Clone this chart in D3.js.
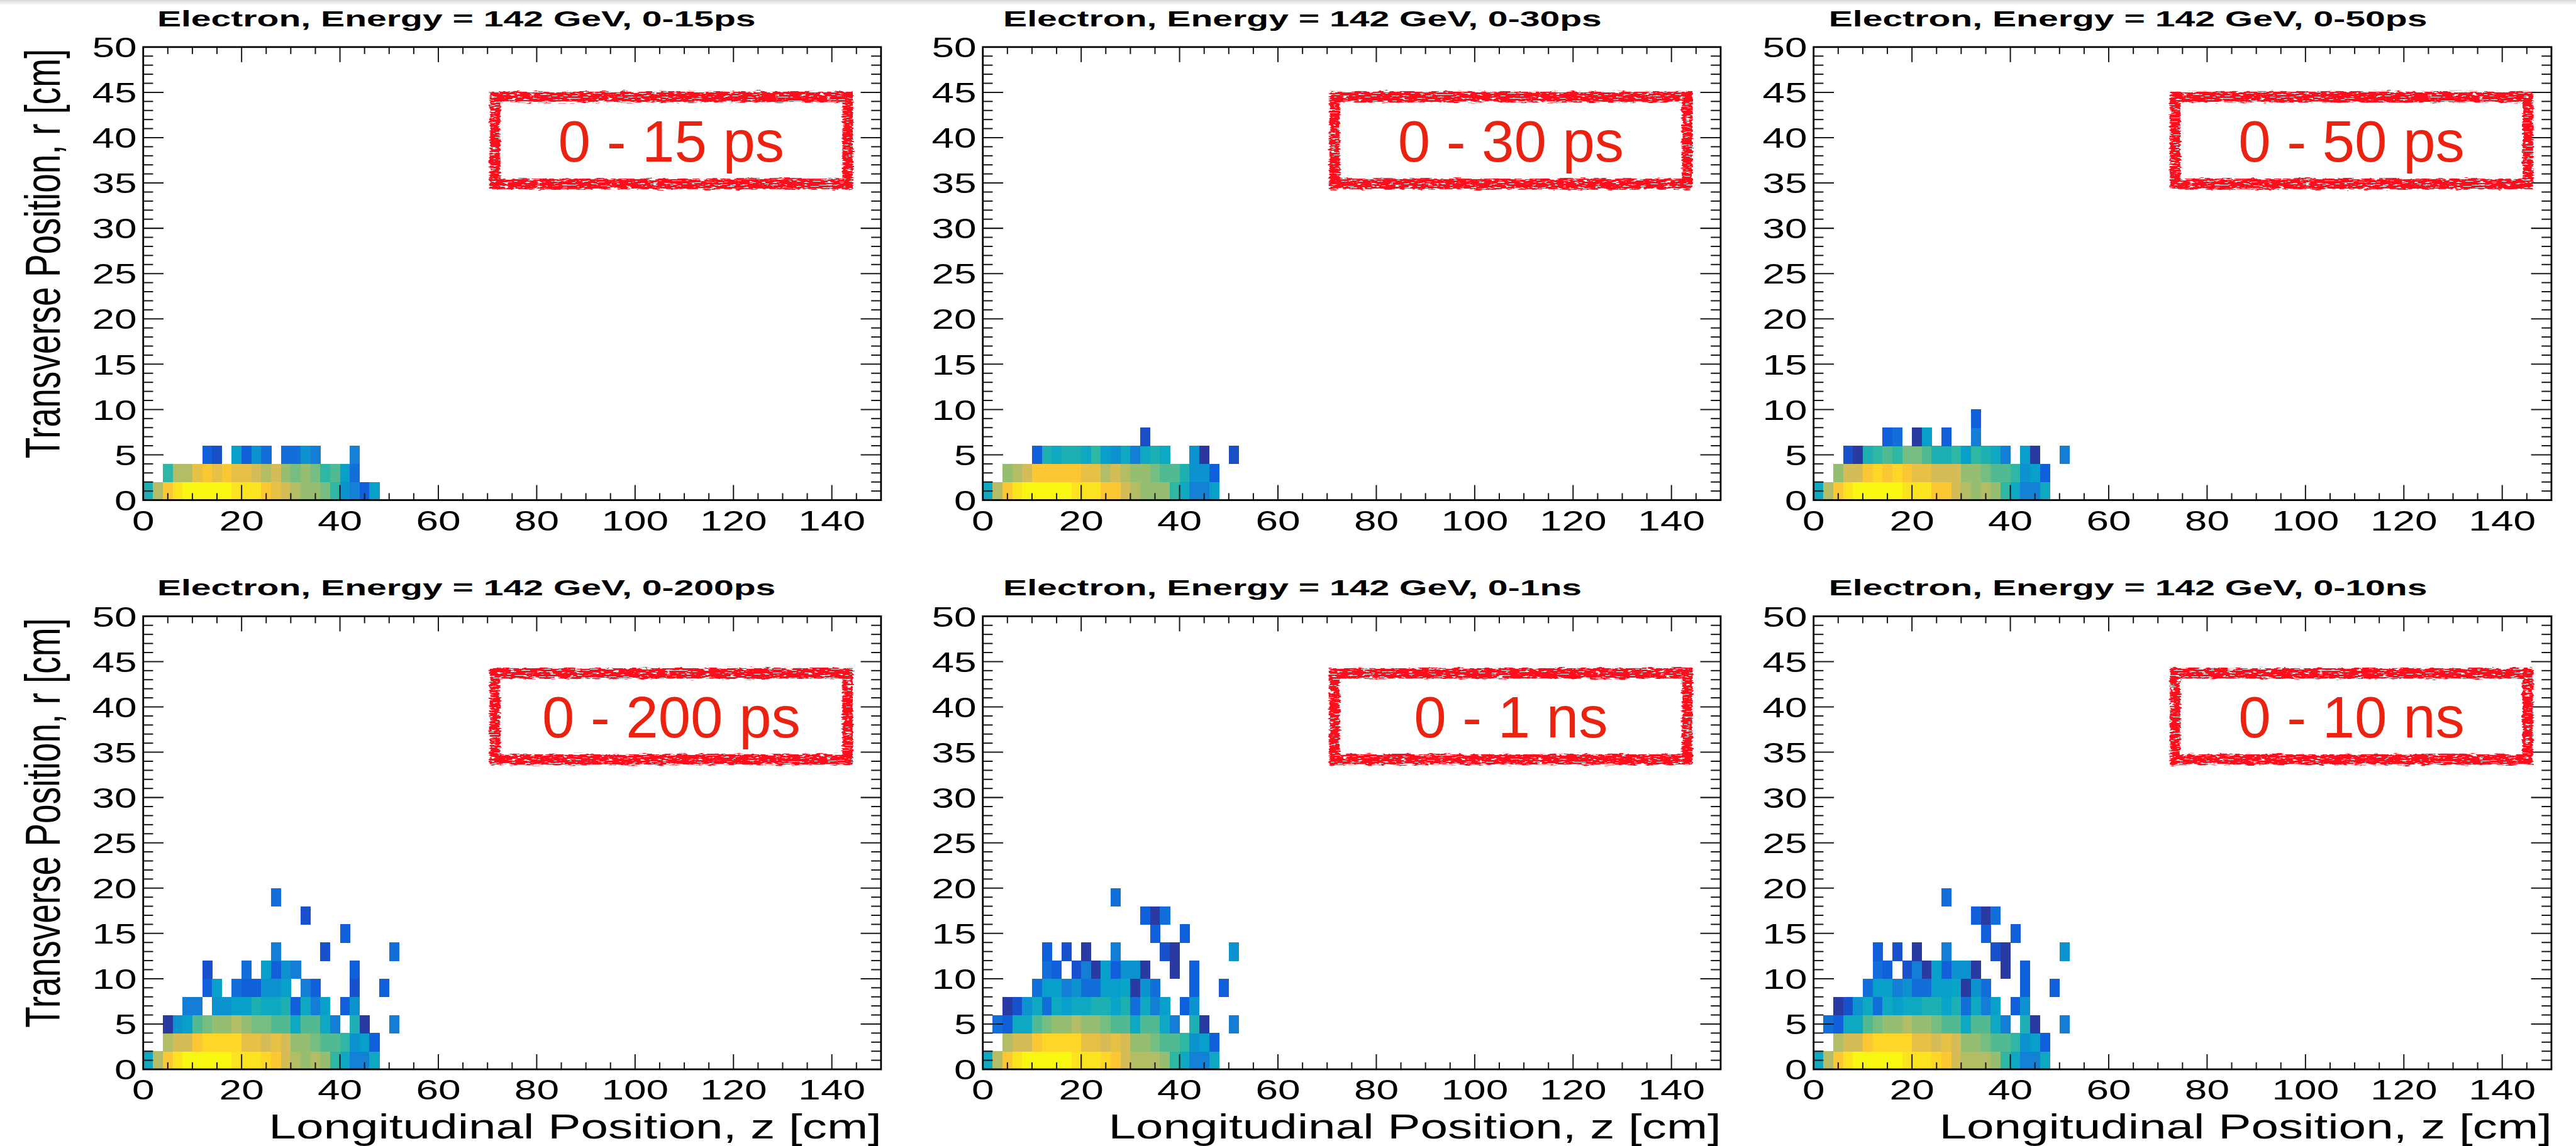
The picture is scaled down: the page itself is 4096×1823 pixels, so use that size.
<!DOCTYPE html>
<html>
<head>
<meta charset="utf-8">
<script src="https://cdn.jsdelivr.net/npm/d3@7"></script>
<style>
  html, body { margin: 0; padding: 0; background: #fff; overflow: hidden; }
  svg { display: block; }
</style>
</head>
<body>
<svg id="chart"></svg>
<script>
// ---------------------------------------------------------------
// Electron shower (142 GeV) energy density, r vs z, for six
// integration time windows. Cells are 2 cm x 2 cm bins; values are
// a colour level 0..100 on the bird palette (log density).
// ---------------------------------------------------------------
const _ = null;

const timeWindows  = ["0-15ps", "0-30ps", "0-50ps", "0-200ps", "0-1ns", "0-10ns"];
const stampLabels  = ["0 - 15 ps", "0 - 30 ps", "0 - 50 ps", "0 - 200 ps", "0 - 1 ns", "0 - 10 ns"];
const xTickLabels  = [0, 20, 40, 60, 80, 100, 120, 140];
const yTickLabels  = [0, 5, 10, 15, 20, 25, 30, 35, 40, 45, 50];
const zRange = [0, 150];   // cm
const rRange = [0, 50];    // cm
const binSize = 2;         // cm

// bird palette stops
const birdStops = ["#352a87", "#0f5cdd", "#1481d6", "#06a4ca", "#2eb7a4",
                   "#87bf77", "#d1bb59", "#fec832", "#f9fb0e"];

// rows = r bins (0-2, 2-4, ...), columns = z bins (0-2, 2-4, ... 50-52)
const density_0_15ps = [
  [45,70,87,94,99,99,99,99,99,94,94,94,87,81,76,70,65,65,60,50,31,25,14,36,_,_],
  [_,_,50,70,70,81,87,81,87,81,81,76,70,76,65,60,65,60,50,55,36,19,_,_,_,_],
  [_,_,_,_,_,_,14,9,_,36,14,31,19,_,19,19,31,24,_,_,_,25,_,_,_,_]
];

const density_0_30ps = [
  [40,70,87,94,99,99,99,99,99,94,94,94,87,87,76,70,65,65,65,50,40,25,25,36,_,_],
  [_,_,65,70,76,87,87,87,87,87,81,81,70,76,70,65,65,60,55,55,45,31,31,14,_,_],
  [_,_,_,_,_,14,45,40,45,45,40,50,36,31,40,24,40,45,40,_,_,31,3,_,_,9],
  [_,_,_,_,_,_,_,_,_,_,_,_,_,_,_,_,9,_,_,_,_,_,_,_,_,_]
];

const density_0_50ps = [
  [40,70,87,94,99,99,99,99,99,94,94,94,87,87,76,70,65,70,65,50,40,25,25,40,_,_],
  [_,_,65,76,76,87,91,87,91,87,81,81,76,76,76,65,65,60,55,55,50,31,36,14,_,_],
  [_,_,_,10,4,45,50,55,50,60,60,55,45,45,50,36,50,45,40,24,_,36,4,_,_,24],
  [_,_,_,_,_,_,_,14,19,_,4,36,_,14,_,_,24,_,_,_,_,_,_,_,_,_],
  [_,_,_,_,_,_,_,_,_,_,_,_,_,_,_,_,14,_,_,_,_,_,_,_,_,_]
];

const density_0_200ps = [
  [40,70,87,94,99,99,99,99,99,94,94,94,91,87,76,70,65,70,65,50,40,25,25,40,_,_],
  [_,_,70,76,76,87,91,91,91,91,81,81,76,81,76,65,65,60,55,55,50,31,36,14,_,_],
  [_,_,4,31,36,55,60,65,65,70,65,60,60,55,55,40,55,55,40,24,_,45,4,_,_,24],
  [_,_,_,_,24,24,_,31,31,36,36,45,40,40,45,14,40,24,36,_,14,31,_,_,_,_],
  [_,_,_,_,_,_,14,36,_,19,14,14,31,31,36,_,24,14,_,_,_,10,_,_,14,_],
  [_,_,_,_,_,_,10,_,_,_,19,_,36,14,31,24,_,_,_,_,_,14,_,_,_,_],
  [_,_,_,_,_,_,_,_,_,_,_,_,_,24,_,_,_,_,10,_,_,_,_,_,_,19],
  [_,_,_,_,_,_,_,_,_,_,_,_,_,_,_,_,_,_,_,_,14,_,_,_,_,_],
  [_,_,_,_,_,_,_,_,_,_,_,_,_,_,_,_,10,_,_,_,_,_,_,_,_,_],
  [_,_,_,_,_,_,_,_,_,_,_,_,_,19,_,_,_,_,_,_,_,_,_,_,_,_]
];

const density_0_1ns = [
  [40,70,87,94,99,99,99,99,99,94,94,94,91,87,76,70,70,70,65,50,40,25,25,40,_,_],
  [_,_,70,76,76,87,91,91,91,91,81,81,76,81,76,65,65,60,55,55,50,31,36,14,_,_],
  [_,19,14,40,40,55,60,65,65,70,65,65,60,55,55,40,55,55,40,24,_,45,4,_,_,24],
  [_,_,4,10,31,40,19,40,36,40,40,45,45,38,45,19,40,24,36,_,14,31,_,_,_,_],
  [_,_,_,_,_,19,36,36,24,31,19,19,36,36,38,4,31,19,_,_,_,14,_,_,14,_],
  [_,_,_,_,_,_,19,14,_,10,24,4,36,14,31,31,4,_,_,4,_,14,_,_,_,_],
  [_,_,_,_,_,_,14,_,10,_,4,_,_,24,_,_,_,_,10,4,_,_,_,_,_,31],
  [_,_,_,_,_,_,_,_,_,_,_,_,_,_,_,_,_,14,_,_,14,_,_,_,_,_],
  [_,_,_,_,_,_,_,_,_,_,_,_,_,_,_,_,14,4,19,_,_,_,_,_,_,_],
  [_,_,_,_,_,_,_,_,_,_,_,_,_,19,_,_,_,_,_,_,_,_,_,_,_,_]
];

const density_0_10ns = [
  [40,70,87,94,99,99,99,99,99,94,94,94,91,87,76,70,70,70,65,50,40,25,25,40,_,_],
  [_,_,70,76,76,87,91,91,91,91,81,81,76,81,76,65,65,60,55,55,50,31,36,14,_,_],
  [_,19,14,40,40,55,60,65,65,70,65,65,60,55,55,40,55,55,40,24,_,45,4,_,_,24],
  [_,_,4,10,31,40,19,40,36,40,40,45,45,38,45,19,40,24,36,_,14,31,_,_,_,_],
  [_,_,_,_,_,19,36,36,24,31,19,19,36,36,38,4,31,19,_,_,_,14,_,_,14,_],
  [_,_,_,_,_,_,19,14,_,10,24,4,36,14,31,31,4,_,_,4,_,14,_,_,_,_],
  [_,_,_,_,_,_,14,_,10,_,4,_,_,24,_,_,_,_,10,4,_,_,_,_,_,31],
  [_,_,_,_,_,_,_,_,_,_,_,_,_,_,_,_,_,14,_,_,14,_,_,_,_,_],
  [_,_,_,_,_,_,_,_,_,_,_,_,_,_,_,_,14,4,19,_,_,_,_,_,_,_],
  [_,_,_,_,_,_,_,_,_,_,_,_,_,19,_,_,_,_,_,_,_,_,_,_,_,_]
];

const densities = [density_0_15ps, density_0_30ps, density_0_50ps,
                   density_0_200ps, density_0_1ns, density_0_10ns];

// ---------------------------------------------------------------
// layout (drawn in a 4434 x 1973 coordinate space, scaled to the window)
// ---------------------------------------------------------------
const VW = 4434, VH = 1973;
const frameLeft = [246.5, 1691.7, 3121.7];
const frameTop  = [81, 1061];
const titleInset = [24, 35, 26];
const frameW = 1270, frameH = 780;
const FONT = "'Liberation Sans', Arial, Helvetica, sans-serif";

const svg = d3.select("#chart")
  .attr("width", 4096).attr("height", 1823)
  .attr("viewBox", `0 0 ${VW} ${VH}`)
  .attr("preserveAspectRatio", "none");

const defs = svg.append("defs");
const grad = defs.append("linearGradient").attr("id", "topShade")
  .attr("x1", 0).attr("y1", 0).attr("x2", 0).attr("y2", 1);
grad.append("stop").attr("offset", "0%").attr("stop-color", "#d8d8d8");
grad.append("stop").attr("offset", "100%").attr("stop-color", "#ffffff");

// rough rubber-stamp look for the red frames
const f = defs.append("filter").attr("id", "stamp")
  .attr("x", "-8%").attr("y", "-30%").attr("width", "116%").attr("height", "160%");
f.append("feTurbulence").attr("type", "fractalNoise").attr("baseFrequency", "0.06 0.35")
  .attr("numOctaves", 2).attr("seed", 4).attr("result", "wob");
f.append("feDisplacementMap").attr("in", "SourceGraphic").attr("in2", "wob")
  .attr("scale", 9).attr("xChannelSelector", "R").attr("yChannelSelector", "G").attr("result", "rough");
f.append("feTurbulence").attr("type", "fractalNoise").attr("baseFrequency", "0.09 0.45")
  .attr("numOctaves", 2).attr("seed", 11).attr("result", "speck");
f.append("feColorMatrix").attr("in", "speck").attr("type", "matrix")
  .attr("values", "0 0 0 0 0  0 0 0 0 0  0 0 0 0 0  -14 0 0 0 9.6").attr("result", "mask");
f.append("feComposite").attr("in", "rough").attr("in2", "mask").attr("operator", "in");

svg.append("rect").attr("width", VW).attr("height", VH).attr("fill", "#fff");
svg.append("rect").attr("width", VW).attr("height", 9).attr("fill", "url(#topShade)");

const color = d3.scaleLinear()
  .domain(d3.range(birdStops.length).map(k => k * 100 / (birdStops.length - 1)))
  .range(birdStops)
  .interpolate(d3.interpolateRgb);

// horizontal stretch factors derived from measured widths
function natural(str, size, weight) {
  const t = svg.append("text").attr("font-family", FONT).attr("font-size", size)
    .attr("font-weight", weight).text(str);
  const w = t.node().getComputedTextLength();
  t.remove();
  return w;
}
const sxTitle = 1030 / natural("Electron, Energy = 142 GeV, 0-15ps", 37.7, "bold");
const sxTick  = 77 / natural("20", 49, "normal");
const sxAxis  = 1055 / natural("Longitudinal Position, z [cm]", 59.5, "normal");

function stretched(parent, str, x, y, size, sx, opts = {}) {
  return parent.append("text")
    .attr("transform", `translate(${x},${y}) scale(${sx},1)` + (opts.rotate ? ` rotate(${opts.rotate})` : ""))
    .attr("font-family", FONT)
    .attr("font-size", size)
    .attr("font-weight", opts.weight || "normal")
    .attr("text-anchor", opts.anchor || "start")
    .attr("fill", "#000")
    .text(str);
}

densities.forEach((cells, k) => {
  const col = k % 3, row = Math.floor(k / 3);
  const fx = frameLeft[col], fy = frameTop[row];
  const x = d3.scaleLinear().domain(zRange).range([fx, fx + frameW]);
  const y = d3.scaleLinear().domain(rRange).range([fy + frameH, fy]);
  const g = svg.append("g");

  // histogram cells
  const flat = cells.flatMap((rw, j) => rw.map((v, i) => ({ i, j, v }))).filter(d => d.v !== null);
  g.append("g").selectAll("rect").data(flat).join("rect")
    .attr("x", d => x(d.i * binSize))
    .attr("y", d => y((d.j + 1) * binSize))
    .attr("width", x(binSize) - x(0) + 0.6)
    .attr("height", y(0) - y(binSize) + 0.6)
    .attr("fill", d => color(d.v))
    .attr("shape-rendering", "crispEdges");

  // ticks on all four sides, pointing inward
  const tg = g.append("g").attr("stroke", "#1a1a1a").attr("stroke-width", 2.2);
  const xt = d3.range(5, 150, 5);
  const xLen = v => (v % 20 === 0 ? 26 : 12);
  tg.selectAll(".xb").data(xt).join("line")
    .attr("x1", d => x(d)).attr("x2", d => x(d))
    .attr("y1", y(0)).attr("y2", d => y(0) - xLen(d));
  tg.selectAll(".xt").data(xt).join("line")
    .attr("x1", d => x(d)).attr("x2", d => x(d))
    .attr("y1", y(50)).attr("y2", d => y(50) + xLen(d));
  const yt = d3.range(1, 50, 1);
  const yLen = v => (v % 5 === 0 ? 35 : 17);
  tg.selectAll(".yl").data(yt).join("line")
    .attr("y1", d => y(d)).attr("y2", d => y(d))
    .attr("x1", x(0)).attr("x2", d => x(0) + yLen(d));
  tg.selectAll(".yr").data(yt).join("line")
    .attr("y1", d => y(d)).attr("y2", d => y(d))
    .attr("x1", x(150)).attr("x2", d => x(150) - yLen(d));

  // frame
  g.append("rect").attr("x", fx).attr("y", fy).attr("width", frameW).attr("height", frameH)
    .attr("fill", "none").attr("stroke", "#000").attr("stroke-width", 3);

  // tick labels
  xTickLabels.forEach(v => stretched(g, String(v), x(v), y(0) + 52, 49, sxTick, { anchor: "middle" }));
  yTickLabels.forEach(v => stretched(g, String(v), x(0) - 11, y(v) + 17.5, 49, sxTick, { anchor: "end" }));

  // panel title
  stretched(g, `Electron, Energy = 142 GeV, ${timeWindows[k]}`, fx + titleInset[col], fy - 36, 37.7, sxTitle, { weight: "bold" });

  // axis titles
  if (col === 0) {
    stretched(g, "Transverse Position, r [cm]", 103, fy + 3, 59.5, sxAxis, { anchor: "end", rotate: -90 });
  }
  if (row === 1) {
    stretched(g, "Longitudinal Position, z [cm]", fx + frameW + 1, 1960, 59.5, sxAxis, { anchor: "end" });
  }

  // red time-window stamp
  const zb = col === 2 ? [73.5, 145.2] : [71.5, 143.2];
  const rb = row === 0 ? [34.9, 44.5] : [34.2, 43.7];
  const bx0 = x(zb[0]), bx1 = x(zb[1]), by0 = y(rb[1]), by1 = y(rb[0]);
  g.append("rect")
    .attr("x", bx0).attr("y", by0).attr("width", bx1 - bx0).attr("height", by1 - by0)
    .attr("fill", "none").attr("stroke", "#ff0a1c").attr("stroke-width", 18)
    .attr("filter", "url(#stamp)");
  g.append("text")
    .attr("x", (bx0 + bx1) / 2).attr("y", (by0 + by1) / 2 + 36)
    .attr("font-family", FONT).attr("font-size", 100)
    .attr("text-anchor", "middle").attr("fill", "#ea220f")
    .text(stampLabels[k]);
});
</script>
</body>
</html>
